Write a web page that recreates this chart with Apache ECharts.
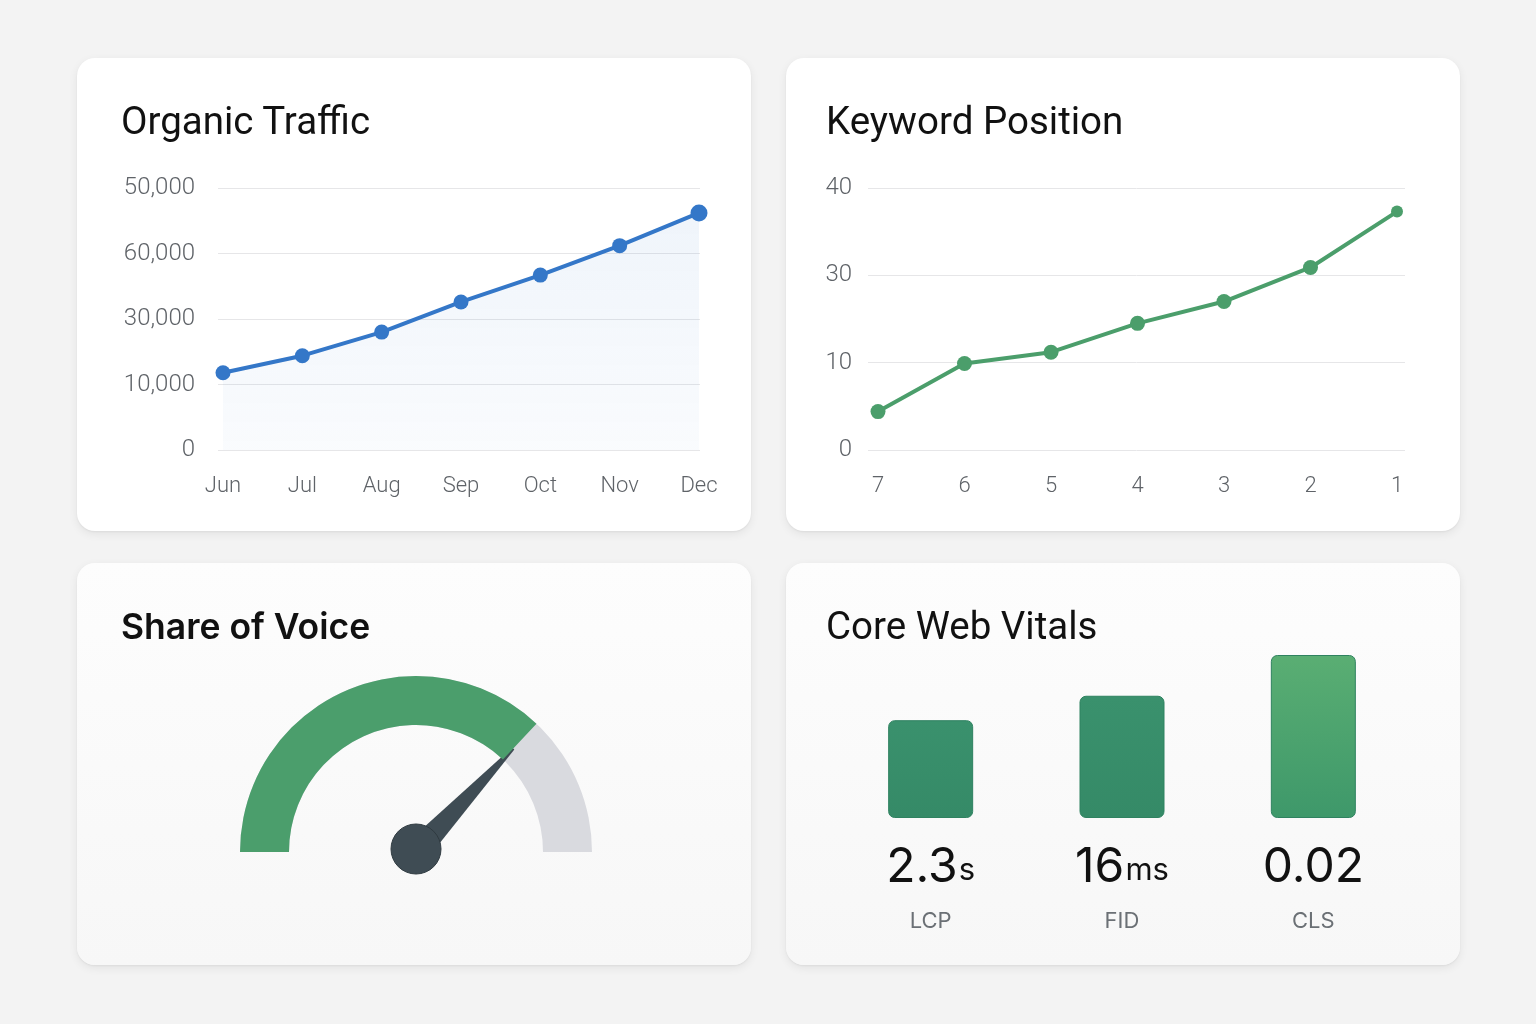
<!DOCTYPE html>
<html>
<head>
<meta charset="utf-8">
<title>SEO Dashboard</title>
<script src="https://cdn.jsdelivr.net/npm/echarts@6/dist/echarts.min.js"></script>
<style>
    html, body { margin: 0; padding: 0; }
    body {
        width: 1536px; height: 1024px; position: relative; overflow: hidden;
        background: #f3f3f3;
        font-family: Roboto, "Noto Sans", sans-serif;
    }
    .card {
        position: absolute; width: 674px; border-radius: 18px;
        background: #ffffff;
        box-shadow: 0 3px 10px rgba(0,0,0,0.07), 0 1px 2px rgba(0,0,0,0.05);
    }
    .card.low { height: 402px; top: 563px; background: linear-gradient(#fdfdfd, #f7f7f7); }
    .card.high { height: 473px; top: 58px; }
    .card .title {
        position: absolute; left: 44px; top: 44px; margin: 0;
        font-size: 38.5px; font-weight: 400; line-height: 38px; color: #111;
    }
    .card.right .title { left: 40px; }
    .card .title.bold { font-family: Inter, sans-serif; font-weight: 600; font-size: 35.5px; top: 45px; }
    .card .chart { position: absolute; left: 0; top: 0; width: 674px; height: 100%; }
</style>
</head>
<body>
    <div class="card high" style="left:77px"><div class="chart" id="organicTraffic"></div><h2 class="title">Organic Traffic</h2></div>
    <div class="card high right" style="left:786px"><div class="chart" id="keywordPosition"></div><h2 class="title">Keyword Position</h2></div>
    <div class="card low" style="left:77px"><div class="chart" id="shareOfVoice"></div><h2 class="title bold">Share of Voice</h2></div>
    <div class="card low right" style="left:786px"><div class="chart" id="webVitals"></div><h2 class="title">Core Web Vitals</h2></div>

<script>
// 自然流量 (数值按刻度位置读取, 0..4 对应下面的刻度文字)
var trafficMonths = ['Jun', 'Jul', 'Aug', 'Sep', 'Oct', 'Nov', 'Dec']
var trafficTicks = ['0', '10,000', '30,000', '60,000', '50,000']
var trafficValues = [1.18, 1.44, 1.80, 2.26, 2.67, 3.12, 3.62]

// 关键词排名 (0..3 对应刻度文字)
var positionLabels = ['7', '6', '5', '4', '3', '2', '1']
var positionTicks = ['0', '10', '30', '40']
var positionValues = [0.44, 0.99, 1.12, 1.45, 1.70, 2.09, 2.73]

// 声量占比
var shareOfVoice = 74

// 核心指标
var vitalNames = ['LCP', 'FID', 'CLS']
var vitalValues = ['2.3', '16', '0.02']
var vitalUnits = ['s', 'ms', '']
var vitalBars = [60, 75, 100]

var labelColor = '#5f6368'
var gridColor = '#e6e6e8'

// 折线图公用配置: grid 0 只画横线, grid 1 画折线
function lineOption (cfg) {
    var last = cfg.values.length - 1
    return {
        animation: false,
        grid: [
            {left: cfg.lineLeft, right: cfg.lineRight, top: 130, bottom: 81},
            {left: cfg.left, right: cfg.right, top: 130, bottom: 81}
        ],
        xAxis: [
            {gridIndex: 0, type: 'value', min: 0, max: 1, show: false},
            {
                gridIndex: 1,
                type: 'category',
                boundaryGap: false,
                data: cfg.categories,
                axisLine: {show: false},
                axisTick: {show: false},
                axisLabel: {color: labelColor, fontSize: 22, margin: 25, fontFamily: 'Roboto', fontWeight: 300}
            }
        ],
        yAxis: [
            {
                gridIndex: 0,
                type: 'value',
                min: 0,
                max: cfg.ticks.length - 1,
                interval: 1,
                axisLine: {show: false},
                axisTick: {show: false},
                axisLabel: {
                    color: labelColor, fontSize: 24, margin: cfg.labelMargin, fontFamily: 'Roboto', fontWeight: 300,
                    padding: [5, 0, 0, 0],
                    formatter: function (v) { return cfg.ticks[v] }
                },
                splitLine: {lineStyle: {color: gridColor, width: 1}}
            },
            {gridIndex: 1, type: 'value', min: 0, max: cfg.ticks.length - 1, show: false}
        ],
        series: [{
            type: 'line',
            xAxisIndex: 1,
            yAxisIndex: 1,
            data: cfg.values,
            symbol: 'circle',
            symbolSize: function (v, p) { return p.dataIndex === last ? cfg.lastSize : cfg.size },
            lineStyle: {color: cfg.color, width: 4},
            itemStyle: {color: cfg.color},
            areaStyle: cfg.area ? {
                color: new echarts.graphic.LinearGradient(0, 0, 0, 1, [
                    {offset: 0, color: 'rgba(52,119,200,0.11)'},
                    {offset: 1, color: 'rgba(52,119,200,0.04)'}
                ])
            } : null
        }]
    }
}

function _initTraffic () {
    var myChart = echarts.init(document.getElementById('organicTraffic'))
    myChart.setOption(lineOption({
        categories: trafficMonths, ticks: trafficTicks, values: trafficValues,
        lineLeft: 141, lineRight: 51, left: 146, right: 52, labelMargin: 23,
        color: '#3477c8', size: 15, lastSize: 17, area: true
    }))
}

function _initPosition () {
    var myChart = echarts.init(document.getElementById('keywordPosition'))
    myChart.setOption(lineOption({
        categories: positionLabels, ticks: positionTicks, values: positionValues,
        lineLeft: 82, lineRight: 55, left: 92, right: 63, labelMargin: 16,
        color: '#4b9e6b', size: 15, lastSize: 12, area: false
    }))
}

function _initShare () {
    var myChart = echarts.init(document.getElementById('shareOfVoice'))
    myChart.setOption({
        animation: false,
        series: [{
            type: 'gauge',
            center: [339, 289],
            radius: 176,
            startAngle: 180,
            endAngle: 0,
            min: 0,
            max: 100,
            axisLine: {lineStyle: {width: 49, color: [[1, '#d9dadf']]}},
            progress: {show: true, width: 49, itemStyle: {color: '#4b9e6c'}},
            pointer: {
                icon: 'path://M4.4,0 L5.6,0 L10,100 L0,100 Z',
                length: 142,
                width: 26,
                offsetCenter: [0, 0],
                itemStyle: {color: '#3f4c54'}
            },
            anchor: {
                show: true, showAbove: true, size: 50, offsetCenter: [0, -3],
                itemStyle: {color: '#3f4c54', borderColor: '#2f3a40', borderWidth: 1}
            },
            axisTick: {show: false},
            splitLine: {show: false},
            axisLabel: {show: false},
            title: {show: false},
            detail: {show: false},
            data: [{value: shareOfVoice}]
        }]
    })
}

function _initVitals () {
    var myChart = echarts.init(document.getElementById('webVitals'))
    var barColors = [
        ['#3a916d', '#358a67'],
        ['#3a916d', '#358a67'],
        ['#5aae73', '#3e986a']
    ]
    myChart.setOption({
        animation: false,
        grid: {left: 49, right: 51, top: 92, bottom: 147},
        xAxis: {
            type: 'category',
            data: vitalNames,
            axisLine: {show: false},
            axisTick: {show: false},
            axisLabel: {
                margin: 20,
                formatter: function (name, i) {
                    return '{v|' + vitalValues[i] + '}' + (vitalUnits[i] ? '{u|' + vitalUnits[i] + '}' : '') + '\n{n|' + name + '}'
                },
                rich: {
                    v: {fontFamily: 'Inter', fontSize: 48, color: '#111', lineHeight: 54, verticalAlign: 'bottom'},
                    u: {fontFamily: 'Inter', fontSize: 31, color: '#111', lineHeight: 40, verticalAlign: 'bottom', padding: [0, 0, 6, 1]},
                    n: {fontFamily: 'Inter', fontSize: 22, color: '#6b7075', lineHeight: 40, verticalAlign: 'bottom'}
                }
            }
        },
        yAxis: {type: 'value', min: 0, max: 100, show: false},
        series: [{
            type: 'bar',
            barWidth: 85,
            data: vitalBars,
            itemStyle: {
                borderRadius: 6,
                borderColor: '#2f8260',
                borderWidth: 1,
                color: function (p) {
                    var c = barColors[p.dataIndex]
                    return new echarts.graphic.LinearGradient(0, 0, 0, 1, [
                        {offset: 0, color: c[0]},
                        {offset: 1, color: c[1]}
                    ])
                }
            }
        }]
    })
}

_initTraffic()
_initPosition()
_initShare()
_initVitals()
</script>
</body>
</html>
